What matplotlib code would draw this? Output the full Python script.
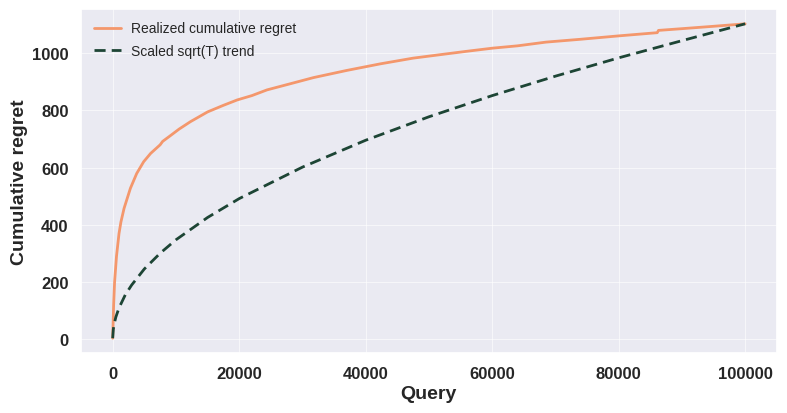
import matplotlib
matplotlib.use("Agg")
import matplotlib.pyplot as plt
import seaborn as sns

# Realized cumulative regret
regret_t = [1, 150, 300, 600, 1000, 1300, 1800, 2800, 3800, 4900, 6000, 7500, 7900,
            9000, 10500, 12300, 15000, 17500, 19700, 22000, 24400, 28000, 31750, 37000,
            42300, 47500, 52800, 56000, 60100, 64000, 68500, 74000, 80100, 86100, 86300,
            90000, 94800, 100000]
regret_v = [4, 120, 200, 290, 370, 410, 458, 528, 580, 621, 650, 680, 692,
            710, 735, 761, 795, 818, 837, 852, 872, 893, 915, 940,
            963, 983, 998, 1007, 1018, 1026, 1039, 1049, 1061, 1072, 1080,
            1086, 1094, 1103]

# Scaled sqrt(T) trend
trend_t = [1, 100, 250, 500, 1000, 2000, 3000, 5000, 7500, 10000, 15000, 20000,
           30000, 40000, 50000, 60000, 70000, 80000, 90000, 100000]
trend_v = [4, 35, 55, 78, 110, 156, 190, 246, 301, 348, 426, 492,
           602, 696, 778, 852, 920, 984, 1044, 1103]

label_regret = "Realized cumulative regret"
label_trend = "Scaled sqrt(T) trend"

sns.set_theme(style="darkgrid")
plt.rcParams["font.family"] = ["Liberation Sans", "DejaVu Sans"]

fig = plt.figure(figsize=(7.87, 4.14), dpi=100)
ax = fig.add_axes([0.103, 0.144, 0.884, 0.832])

ax.plot(regret_t, regret_v, color="#f4976c", lw=2, label=label_regret)
ax.plot(trend_t, trend_v, color="#1d4535", lw=2, ls=(0, (4, 2.2)), label=label_trend)

ax.set_xlim(-5000, 105000)
ax.set_ylim(-49, 1155)
ax.set_xticks([0, 20000, 40000, 60000, 80000, 100000])
ax.set_yticks([0, 200, 400, 600, 800, 1000])
ax.grid(True, color="white", lw=0.8, alpha=0.6)

ax.set_xlabel("Query", fontsize=14, fontweight="bold", color="#262626", labelpad=3)
ax.set_ylabel("Cumulative regret", fontsize=14, fontweight="bold", color="#262626", labelpad=3)
for lab in ax.get_xticklabels() + ax.get_yticklabels():
    lab.set_fontweight("bold")
    lab.set_fontsize(12)
ax.tick_params(axis="both", pad=3)

ax.legend(loc="upper left", frameon=False, fontsize=10, handletextpad=0.7,
          labelspacing=0.6)

fig.savefig("out.png", dpi=100)
